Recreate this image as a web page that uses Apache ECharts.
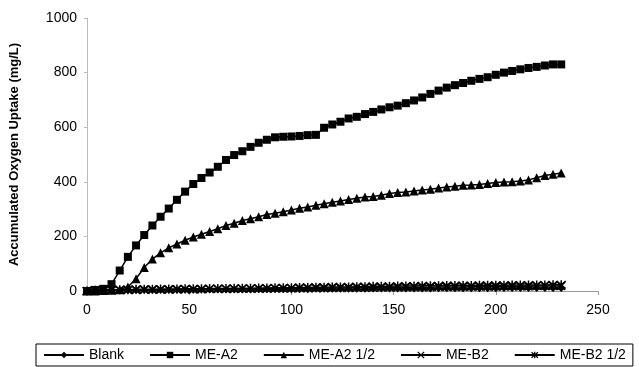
<!DOCTYPE html>
<html><head><meta charset="utf-8">
<script src="https://cdn.jsdelivr.net/npm/echarts@6/dist/echarts.min.js"></script>
<style>html,body{margin:0;padding:0;background:#fff}#c{width:639px;height:367px}</style>
</head><body><div id="c"></div>
<script>
var hours = [0,4,8,12,16,20,24,28,32,36,40,44,48,52,56,60,64,68,72,76,80,84,88,92,96,100,104,108,112,116,120,124,128,132,136,140,144,148,152,156,160,164,168,172,176,180,184,188,192,196,200,204,208,212,216,220,224,228,232];
var blank = [0,1,1,2,2,2,2,3,3,3,3,3,3,3,4,4,4,4,4,4,4,5,5,5,5,5,5,5,6,6,6,6,6,6,6,7,7,7,7,7,7,7,7,8,8,8,8,8,8,8,8,9,9,9,9,9,9,9,9];
var meA2 = [0,4,8,25,75,125,167,205,240,272,302,334,364,392,414,434,455,480,498,512,528,543,554,563,565,566,568,571,572,598,610,620,632,638,648,656,665,673,679,688,698,709,722,734,745,754,762,770,777,783,792,800,806,812,817,821,826,830,830];
var meA2half = [0,0,2,3,5,15,45,86,117,140,158,172,186,198,208,218,228,240,248,258,265,272,280,285,290,297,303,308,314,320,325,330,335,340,344,346,351,357,361,363,366,370,373,377,381,384,387,388,390,394,397,399,400,403,407,415,423,428,432];
var meB2 = [0,2,3,3,4,4,4,5,5,5,5,6,6,6,6,7,7,7,7,8,8,8,8,9,9,9,10,10,10,10,11,11,11,12,12,12,13,13,13,14,14,14,14,15,15,15,15,16,16,16,16,17,17,17,17,18,18,18,18];
var meB2half = [0,3,4,5,5,5,6,6,6,7,7,7,8,8,8,9,9,9,10,10,10,11,11,12,12,12,13,13,14,14,15,15,15,16,16,17,17,17,18,18,18,19,19,19,20,20,20,20,21,21,21,21,22,22,22,22,22,23,23];
var seriesNames = ['Blank','ME-A2','ME-A2 1/2','ME-B2','ME-B2 1/2'];
var xTicks = [0,50,100,150,200,250];
var yTicks = [0,200,400,600,800,1000];

function pairs(v){ return hours.map(function(h,i){ return [h, v[i]]; }); }
var F = 'Liberation Sans, Arial, sans-serif';
var crossPath = 'path://M0,0L10,10M10,0L0,10';
var starPath = 'path://M0,0L10,10M10,0L0,10M5,-1L5,11';
var vals = [blank, meA2, meA2half, meB2, meB2half];
var syms = ['diamond','rect','triangle',crossPath,starPath];
var sizes = [7,8,9,8,9];
var series = seriesNames.map(function(n,i){
  var isPath = i>=3;
  return {
    name:n, type:'line', data:pairs(vals[i]), symbol:syms[i], symbolSize:sizes[i],
    showSymbol:true,
    lineStyle:{color:'#000',width:1.5},
    itemStyle:{color: isPath ? 'rgba(0,0,0,0)' : '#000', borderColor:'#000', borderWidth: isPath?1.5:0},
    emphasis:{disabled:true}, animation:false, z: 10-i
  };
});
var legendData = seriesNames.map(function(n,i){
  return i>=3 ? {name:n, itemStyle:{color:'rgba(0,0,0,0)',borderColor:'#000',borderWidth:1.2}} : {name:n};
});
var chart = echarts.init(document.getElementById('c'), null, {renderer:'canvas'});
chart.setOption({
  animation:false,
  grid:{left:86,right:41,top:18,bottom:76},
  xAxis:{type:'value',min:0,max:250,interval:50,
    axisLine:{show:true,lineStyle:{color:'#999',width:1}},
    axisTick:{show:true,inside:false,length:4,lineStyle:{color:'#999'}},
    axisLabel:{color:'#000',fontFamily:F,fontSize:14,margin:12,
      formatter:function(v){ return xTicks.indexOf(v)>=0 ? String(v) : ''; }},
    splitLine:{show:false}},
  yAxis:{type:'value',min:0,max:1000,interval:200,
    name:'Accumulated Oxygen Uptake (mg/L)',nameLocation:'middle',nameGap:66,
    nameTextStyle:{color:'#000',fontFamily:F,fontSize:13,fontWeight:'bold'},
    axisLine:{show:true,lineStyle:{color:'#bbb',width:1}},
    axisTick:{show:true,length:3,lineStyle:{color:'#bbb'}},
    axisLabel:{color:'#000',fontFamily:F,fontSize:14,margin:10,
      formatter:function(v){ return yTicks.indexOf(v)>=0 ? String(v) : ''; }},
    splitLine:{show:false}},
  legend:{bottom:1,left:36,data:legendData,itemWidth:40,itemHeight:8,itemGap:25,
    borderColor:'#000',borderWidth:1,padding:[4,7],
    textStyle:{color:'#000',fontFamily:F,fontSize:14}},
  series:series
});
</script></body></html>
